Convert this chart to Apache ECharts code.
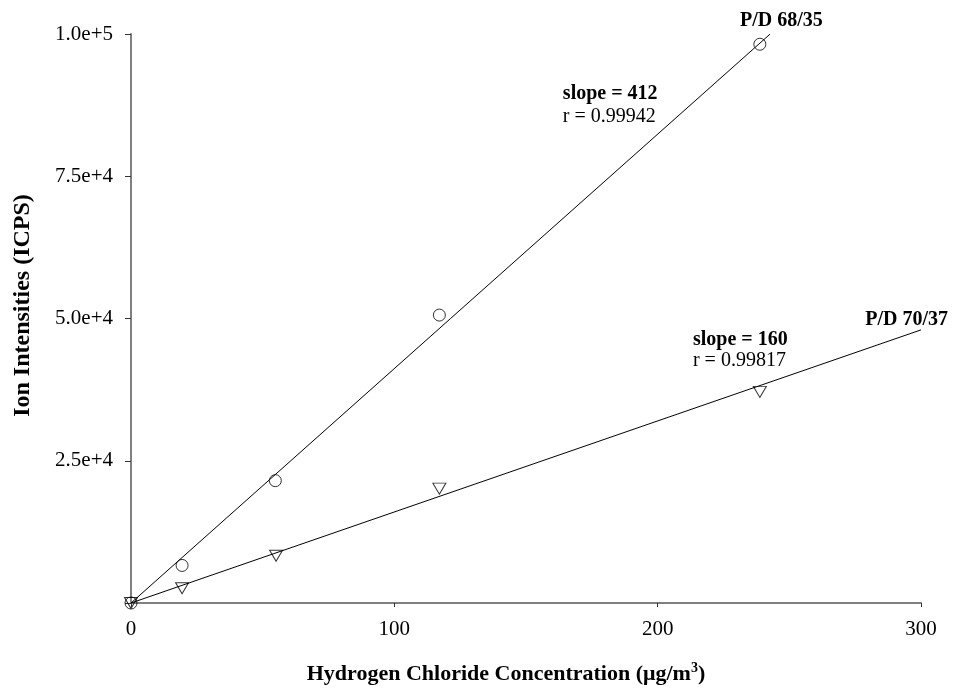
<!DOCTYPE html>
<html><head><meta charset="utf-8">
<script src="https://cdn.jsdelivr.net/npm/echarts@6/dist/echarts.min.js"></script>
<style>html,body{margin:0;padding:0;background:#fff}#c{width:953px;height:690px}</style>
</head><body><div id="c"></div>
<script>
// Data
const circleX = [0, 19.4, 54.8, 117.1, 238.8];
const circleY = [0, 6600, 21500, 50600, 98200];
const triX = [0, 19.4, 55.1, 117.1, 238.8];
const triY = [0, 2600, 8300, 20100, 37100];
const fit1X = [0, 242.7];
const fit1Y = [0, 99990];
const fit2X = [0, 300];
const fit2Y = [0, 48000];
const xTicks = [0, 100, 200, 300];
const yTicks = [25000, 50000, 75000, 100000];
const annotations = [
  {text: 'P/D 68/35', x: 231.3, y: 102300, bold: true},
  {text: 'slope = 412', x: 164, y: 89500, bold: true},
  {text: 'r = 0.99942', x: 164, y: 85500, bold: false},
  {text: 'slope = 160', x: 213.4, y: 46300, bold: true},
  {text: 'r = 0.99817', x: 213.4, y: 42600, bold: false},
  {text: 'P/D 70/37', x: 278.8, y: 49700, bold: true}
];

const FONT = '"Liberation Serif", "Times New Roman", serif';
const chart = echarts.init(document.getElementById('c'), null, {renderer: 'canvas'});
const pts = (xs, ys) => xs.map((x, i) => [x, ys[i]]);
const axisCol = '#808080';
chart.setOption({
  animation: false,
  backgroundColor: '#fff',
  grid: {left: 131, right: 32, top: 34, bottom: 83, containLabel: false},
  xAxis: {
    type: 'value', min: 0, max: 300, interval: 100,
    name: 'Hydrogen Chloride Concentration (\u03BCg/m{sup|3})',
    nameLocation: 'middle', nameGap: 58,
    nameTextStyle: {fontFamily: FONT, fontSize: 22, fontWeight: 'bold', color: '#000', padding: [0, 40, 0, 0],
      rich: {sup: {fontFamily: FONT, fontSize: 14, fontWeight: 'bold', verticalAlign: 'top', padding: [0,0,12,0]}}},
    axisLine: {lineStyle: {color: axisCol, width: 2}},
    axisTick: {show: true, inside: false, length: 4, lineStyle: {color: '#333', width: 1}},
    axisLabel: {fontFamily: FONT, fontSize: 21, color: '#000', margin: 16,
      formatter: v => xTicks.includes(v) ? String(v) : ''},
    splitLine: {show: false}
  },
  yAxis: {
    type: 'value', min: 0, max: 100000, interval: 25000,
    name: 'Ion Intensities (ICPS)',
    nameLocation: 'middle', nameGap: 96, nameRotate: 90,
    nameTextStyle: {fontFamily: FONT, fontSize: 24, fontWeight: 'bold', color: '#000', padding: [0, 0, 0, 26]},
    axisLine: {lineStyle: {color: axisCol, width: 2}},
    axisTick: {show: true, inside: false, length: 6, lineStyle: {color: '#333', width: 1}},
    axisLabel: {fontFamily: FONT, fontSize: 21, color: '#000', margin: 18,
      formatter: v => yTicks.includes(v) ? v.toExponential(1) : ''},
    splitLine: {show: false}
  },
  series: [
    {type: 'line', data: pts(fit1X, fit1Y), symbol: 'none', lineStyle: {color: '#000', width: 1}, z: 2},
    {type: 'line', data: pts(fit2X, fit2Y), symbol: 'none', lineStyle: {color: '#000', width: 1}, z: 2},
    {type: 'scatter', data: pts(circleX, circleY), symbol: 'circle', symbolSize: 12,
      itemStyle: {color: 'rgba(0,0,0,0)', borderColor: '#000', borderWidth: 1}, z: 3},
    {type: 'scatter', data: pts(triX, triY), symbol: 'triangle', symbolSize: [13, 11], symbolRotate: 180,
      itemStyle: {color: 'rgba(0,0,0,0)', borderColor: '#000', borderWidth: 1}, z: 3}
  ]
});
const els = annotations.map(a => {
  const p = chart.convertToPixel({gridIndex: 0}, [a.x, a.y]);
  return {type: 'text', x: p[0], y: p[1], z: 10,
    style: {text: a.text, fill: '#000', font: (a.bold ? 'bold ' : '') + '20px ' + FONT,
      textAlign: 'left', textVerticalAlign: 'middle'}};
});
chart.setOption({graphic: els});
</script></body></html>
